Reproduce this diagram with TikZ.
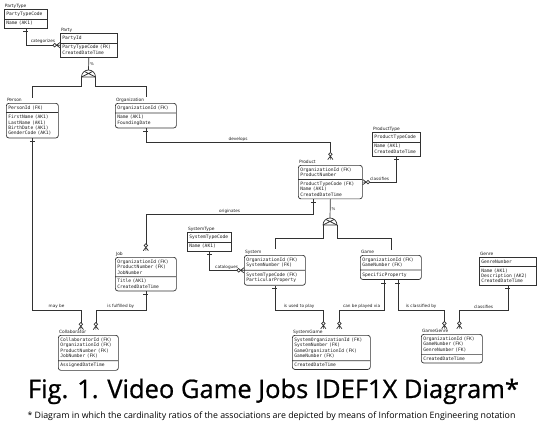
\documentclass[tikz,border=0pt]{standalone}
\usepackage{fontspec}
\usepackage{tikz}
\usetikzlibrary{arrows.meta, positioning, calc, shapes.multipart}
\newfontfamily\boxfont{DejaVu Sans Mono}
\newfontfamily\lblfont{DejaVu Sans}
\newfontfamily\capfont{Open Sans}
\newfontfamily\capboldfont{Open Sans}[FakeBold=0.8]
\definecolor{erline}{RGB}{50,50,50}
\definecolor{ertext}{RGB}{30,30,30}
%% IE ends: one / zero-or-many
\pgfdeclarearrow{
  name=OneBar,
  setup code={
    \pgfarrowssettipend{0pt}
    \pgfarrowssetlineend{0pt}
    \pgfarrowssetbackend{-3.5pt}
    \pgfarrowshullpoint{-3.5pt}{2.8pt}
    \pgfarrowshullpoint{-3.5pt}{-2.8pt}
    \pgfarrowshullpoint{0pt}{0pt}
  },
  drawing code={
    \pgfpathmoveto{\pgfqpoint{-3pt}{2.6pt}}
    \pgfpathlineto{\pgfqpoint{-3pt}{-2.6pt}}
    \pgfusepathqstroke
  }
}
\pgfdeclarearrow{
  name=ZeroMany,
  setup code={
    \pgfarrowssettipend{0pt}
    \pgfarrowssetlineend{-7.1pt}
    \pgfarrowssetbackend{-7.3pt}
    \pgfarrowshullpoint{0pt}{2.8pt}
    \pgfarrowshullpoint{0pt}{-2.8pt}
    \pgfarrowshullpoint{-7.3pt}{2pt}
    \pgfarrowshullpoint{-7.3pt}{-2pt}
  },
  drawing code={
    \pgfpathmoveto{\pgfqpoint{0pt}{2.6pt}}
    \pgfpathlineto{\pgfqpoint{-3.5pt}{0pt}}
    \pgfpathlineto{\pgfqpoint{0pt}{-2.6pt}}
    \pgfpathmoveto{\pgfqpoint{0pt}{0pt}}
    \pgfpathlineto{\pgfqpoint{-3.5pt}{0pt}}
    \pgfpathcircle{\pgfqpoint{-5.3pt}{0pt}}{1.8pt}
    \pgfusepathqstroke
  }
}

\begin{document}
\begin{tikzpicture}[x=1pt,y=-1pt,
  ent/.style={draw=erline,line width=0.7pt,fill=white,rectangle split,rectangle split parts=2,
    anchor=north west,inner xsep=2pt,inner ysep=2.2pt,text width=#1,align=left,
    font=\boxfont\fontsize{4.6}{5.4}\selectfont,text=ertext},
  dep/.style={ent=#1,rounded corners=2.5pt},
  ename/.style={font=\lblfont\fontsize{4.4}{5}\selectfont,text=ertext,inner sep=0.8pt},
  rlbl/.style={font=\lblfont\fontsize{4.2}{5}\selectfont,text=ertext,inner sep=1pt,above},
  pct/.style={font=\lblfont\fontsize{4}{5}\selectfont,text=ertext,inner sep=1pt,right},
  sub/.style={draw=erline,line width=0.7pt},
  rel/.style={sub,{OneBar}-{ZeroMany}},
  catsym/.pic={
    \begin{scope}
      \clip (-7,0) arc[start angle=180,end angle=360,radius=7] -- cycle;
      \draw[sub] (-7,0) -- (7,-7) (7,0) -- (-7,-7);
    \end{scope}
    \draw[sub] (-7,0) arc[start angle=180,end angle=360,radius=7] -- cycle;
    \coordinate (-top) at (0,-7); \coordinate (-l) at (-7,0); \coordinate (-r) at (7,0);
  }]
  \useasboundingbox (0,0) rectangle (540,426);
  %% party and its subtypes
  \node[ent=39pt](ptype) at (4,9) {PartyTypeCode\nodepart{two}Name (AK1)};
  \node[ename,above right=0pt of ptype.north west](ptypeN){PartyType};
  \node[ent=53pt](party) at (60,33) {PartyId\nodepart{two}PartyTypeCode (FK)\\CreatedDateTime};
  \node[ename,above right=0pt of party.north west](partyN){Party};
  \node[dep=48pt](person) at (6,103) {PersonId (FK)\nodepart{two}FirstName (AK1)\\LastName (AK1)\\BirthDate (AK1)\\GenderCode (AK1)};
  \node[ename,above right=0pt of person.north west](personN){Person};
  \node[dep=57pt](org) at (115,103) {OrganizationId (FK)\nodepart{two}Name (AK1)\\FoundingDate};
  \node[ename,above right=0pt of org.north west](orgN){Organization};
  %% products
  \node[ent=44pt](ptyp) at (372,132) {ProductTypeCode\nodepart{two}Name (AK1)\\CreatedDateTime};
  \node[ename,above right=0pt of ptyp.north west](ptypN){ProductType};
  \node[dep=60pt](product) at (298,165) {OrganizationId (FK)\\ProductNumber\nodepart{two}ProductTypeCode (FK)\\Name (AK1)\\CreatedDateTime};
  \node[ename,above right=0pt of product.north west](productN){Product};
  \node[ent=40pt](stype) at (187,232) {SystemTypeCode\nodepart{two}Name (AK1)};
  \node[ename,above right=0pt of stype.north west](stypeN){SystemType};
  \node[dep=57pt](job) at (115,257) {OrganizationId (FK)\\ProductNumber (FK)\\JobNumber\nodepart{two}Title (AK1)\\CreatedDateTime};
  \node[ename,above right=0pt of job.north west](jobN){Job};
  \node[dep=57pt](system) at (244,255) {OrganizationId (FK)\\SystemNumber (FK)\nodepart{two}SystemTypeCode (FK)\\ParticularProperty};
  \node[ename,above right=0pt of system.north west](systemN){System};
  \node[dep=57pt](game) at (360,255) {OrganizationId (FK)\\GameNumber (FK)\nodepart{two}SpecificProperty};
  \node[ename,above right=0pt of game.north west](gameN){Game};
  \node[ent=53pt](genre) at (479,257) {GenreNumber\nodepart{two}Name (AK1)\\Description (AK2)\\CreatedDateTime};
  \node[ename,above right=0pt of genre.north west](genreN){Genre};
  %% associations
  \node[dep=56pt](collab) at (58,335) {CollaboratorId (FK)\\OrganizationId (FK)\\ProductNumber (FK)\\JobNumber (FK)\nodepart{two}AssignedDateTime};
  \node[ename,above right=0pt of collab.north west](collabN){Collaborator};
  \node[dep=74pt](sgame) at (292,335) {SystemOrganizationId (FK)\\SystemNumber (FK)\\GameOrganizationId (FK)\\GameNumber (FK)\nodepart{two}CreatedDateTime};
  \node[ename,above right=0pt of sgame.north west](sgameN){SystemGame};
  \node[dep=57pt](ggenre) at (421,334) {OrganizationId (FK)\\GameNumber (FK)\\GenreNumber (FK)\nodepart{two}CreatedDateTime};
  \node[ename,above right=0pt of ggenre.north west](ggenreN){GameGenre};
  %% category clusters
  \pic (pcat) at (88.5,77) {catsym};
  \pic (gcat) at (330,225) {catsym};
  \draw[sub](party.south) -- node[pct]{\%} (pcat-top);
  \draw[sub](pcat-l) -- ++(0,9) -| (person.north |- personN.north);
  \draw[sub](pcat-r) -- ++(0,9) -| (org.north |- orgN.north);
  \draw[sub](product.south) -- node[pct]{\%} (gcat-top);
  \draw[sub](gcat-l) -- ++(0,13) -| (system.north |- systemN.north);
  \draw[sub](gcat-r) -- ++(0,13) -| (game.north |- gameN.north);
  %% relationships
  \draw[rel](ptype.south) |- node[rlbl,pos=0.75]{categorizes} (party.west);
  \draw[rel](org.south) -- ++(0,14) -| node[rlbl,pos=0.25]{develops} (product.north |- productN.north);
  \draw[rel](ptyp.south) |- node[rlbl,pos=0.75]{classifies} (product.east);
  \draw[rel]([xshift=-17pt]product.south) -- ++(0,15) -| node[rlbl,pos=0.25]{originates} (job.north |- jobN.north);
  \draw[rel](stype.south) |- node[rlbl,pos=0.75]{catalogues} (system.west);
  \coordinate (lowbus) at (0,310);
  \draw[rel](person.south) -- (person.south |- lowbus) -| node[rlbl,pos=0.25]{may be} ($(collab.north |- collabN.north)+(-7.5,0)$);
  \draw[rel](job.south) -- (job.south |- lowbus) -| node[rlbl,pos=0.25]{is fulfilled by} ($(collab.north |- collabN.north)+(7.5,0)$);
  \draw[rel](system.south) -- (system.south |- lowbus) -| node[rlbl,pos=0.25]{is used to play} ($(sgame.north |- sgameN.north)+(-8,0)$);
  \draw[rel]([xshift=-7pt]game.south) -- ([xshift=-7pt]game.south |- lowbus) -| node[rlbl,pos=0.25]{can be played via} ($(sgame.north |- sgameN.north)+(8,0)$);
  \draw[rel]([xshift=7pt]game.south) -- ([xshift=7pt]game.south |- lowbus) -| node[rlbl,pos=0.25]{is classified by} ($(ggenre.north |- ggenreN.north)+(-7.5,0)$);
  \draw[rel](genre.south) -- (genre.south |- lowbus) -| node[rlbl,pos=0.25]{classifies} ($(ggenre.north |- ggenreN.north)+(7.5,0)$);
  %% caption
  \node[font=\capboldfont\fontsize{25.5}{30}\selectfont,anchor=base](title) at (273.5,398) {Fig. 1. Video Game Jobs IDEF1X Diagram*};
  \node[font=\capfont\fontsize{8.8}{10}\selectfont,anchor=base](note) at (271.5,418) {* Diagram in which the cardinality ratios of the associations are depicted by means of Information Engineering notation};
\end{tikzpicture}
\end{document}
